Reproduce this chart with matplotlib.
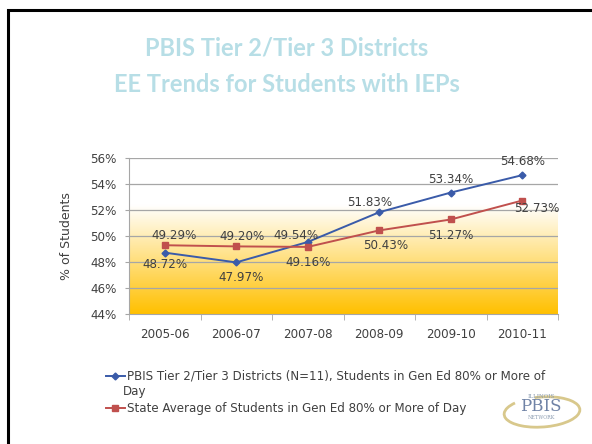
import matplotlib
matplotlib.use("Agg")
import matplotlib.pyplot as plt
import numpy as np
from matplotlib.patches import Rectangle, Arc
from matplotlib.colors import LinearSegmentedColormap

# data
years = ["2005-06", "2006-07", "2007-08", "2008-09", "2009-10", "2010-11"]
pbis = [48.72, 47.97, 49.54, 51.83, 53.34, 54.68]
state = [49.29, 49.20, 49.16, 50.43, 51.27, 52.73]

# label offsets in pixels (dx, dy)
pbis_off = [(0, -12), (5, -15), (-12, 6), (-10, 10), (0, 13), (0, 14)]
state_off = [(9, 10), (6, 10), (0, -16), (6, -15), (0, -16), (15, -8)]

blue = "#3A5BA9"
red = "#C0504D"
txt = "#404040"
fs = 8.6

fig = plt.figure(figsize=(5.92, 4.44), dpi=100)

# slide border
fig.patches.append(Rectangle((7.5 / 592, -0.1), 1.2, 1.1 - 10.5 / 444,
                             transform=fig.transFigure, fill=False,
                             edgecolor="black", linewidth=2.2, zorder=0))

# title
fig.text(287 / 592, 1 - 48 / 444, "PBIS Tier 2/Tier 3 Districts", ha="center", va="center",
         fontsize=17, fontweight="bold", color="#B7DEE6", family="Lato")
fig.text(287 / 592, 1 - 85 / 444, "EE Trends for Students with IEPs", ha="center", va="center",
         fontsize=17, fontweight="bold", color="#B7DEE6", family="Lato")

ax = fig.add_axes([129 / 592, 1 - 314 / 444, 429 / 592, 156 / 444])
x = np.arange(len(years))
ax.set_xlim(-0.5, len(years) - 0.5)
ax.set_ylim(44, 56)

# gradient background
cmap = LinearSegmentedColormap.from_list("g", [(0, "#FFC000"), (0.7, "#FFFFFF"), (1, "#FFFFFF")])
grad = np.linspace(0, 1, 256).reshape(-1, 1)
ax.imshow(grad, extent=[-0.5, len(years) - 0.5, 44, 56], origin="lower",
          aspect="auto", cmap=cmap, zorder=0)

for v in np.arange(46, 57, 2):
    ax.axhline(v, color="#A6A6A6", linewidth=0.9, zorder=1)

ax.plot(x, pbis, color=blue, marker="D", markersize=3.5, linewidth=1.4, zorder=3,
        label="PBIS Tier 2/Tier 3 Districts (N=11), Students in Gen Ed 80% or More of")
ax.plot(x, state, color=red, marker="s", markersize=5, linewidth=1.4, zorder=3,
        label="State Average of Students in Gen Ed 80% or More of Day")

for xi, v, o in zip(x, pbis, pbis_off):
    ax.annotate(f"{v:.2f}%", (xi, v), xytext=o, textcoords="offset pixels",
                ha="center", va="center", fontsize=fs, color=txt, zorder=4)
for xi, v, o in zip(x, state, state_off):
    ax.annotate(f"{v:.2f}%", (xi, v), xytext=o, textcoords="offset pixels",
                ha="center", va="center", fontsize=fs, color=txt, zorder=4)

ax.set_yticks(np.arange(44, 57, 2))
ax.set_yticklabels([f"{v}%" for v in range(44, 57, 2)], fontsize=fs, color=txt)
ax.set_xticks(x)
ax.set_xticklabels(years, fontsize=fs, color=txt)
ax.set_xticks(np.arange(-0.5, len(years), 1), minor=True)
ax.tick_params(axis="x", which="major", length=0, pad=10)
ax.tick_params(axis="x", which="minor", length=4, color="#A6A6A6", direction="out")
ax.tick_params(axis="y", length=3, color="#A6A6A6", pad=6)
for s in ["top", "right"]:
    ax.spines[s].set_visible(False)
ax.spines["left"].set_color("#A6A6A6")
ax.spines["bottom"].set_color("#A6A6A6")
ax.set_ylabel("% of Students", fontsize=9, color=txt, labelpad=12)

fig.legend(loc="upper left", bbox_to_anchor=(101 / 592, 1 - 365 / 444), frameon=False,
           fontsize=fs, handlelength=1.6, handletextpad=0.2, labelspacing=1.6,
           borderaxespad=0, labelcolor=txt)
fig.text(123 / 592, 1 - 391 / 444, "Day", ha="left", va="center", fontsize=fs, color=txt)

# logo
fig.patches.append(Arc((542 / 592, 1 - 412 / 444), 76 / 592, 30 / 444, angle=6,
                       theta1=150, theta2=105, transform=fig.transFigure,
                       edgecolor="#D8C88C", linewidth=2))
fig.text(541 / 592, 1 - 396 / 444, "ILLINOIS", ha="center", va="center", fontsize=4,
         color="#8A9BB0", family="DejaVu Serif")
fig.text(541 / 592, 1 - 406 / 444, "PBIS", ha="center", va="center", fontsize=12,
         color="#7083A6", family="DejaVu Serif")
fig.text(541 / 592, 1 - 417 / 444, "NETWORK", ha="center", va="center", fontsize=3.5,
         color="#8A9BB0", family="DejaVu Serif")

fig.savefig("out.png", dpi=100)
